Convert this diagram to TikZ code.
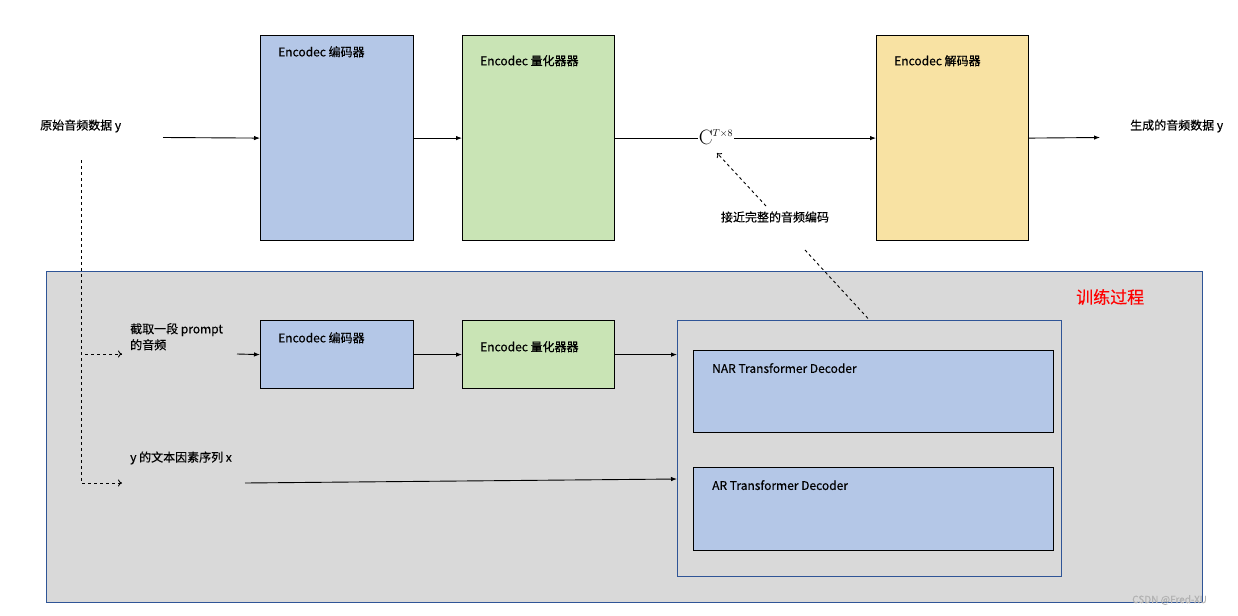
\documentclass[tikz,border=0pt]{standalone}
\usepackage[no-math]{fontspec}
\setmainfont{Noto Sans CJK SC}[FakeBold=0.3]
\usetikzlibrary{arrows.meta}

\definecolor{encblue}{HTML}{B4C7E7}
\definecolor{qgreen}{HTML}{C9E4B5}
\definecolor{decyellow}{HTML}{F8E2A3}
\definecolor{panelgray}{HTML}{D9D9D9}
\definecolor{panelblue}{HTML}{2F5597}

\tikzset{
  box/.style={draw=black, line width=1.2pt, inner sep=0pt, anchor=north west},
  boxtext/.style={anchor=north west, inner sep=0pt, font=\fontsize{12}{14}\selectfont},
  plain/.style={inner sep=0pt, font=\fontsize{12}{16}\selectfont},
  flow/.style={-{Latex[length=6pt,width=4.5pt]}, line width=0.9pt},
  hint/.style={dashed, -{To[length=4pt,width=7pt]}, line width=0.9pt},
}

\begin{document}
\begin{tikzpicture}[x=1pt,y=-1pt]
\useasboundingbox (0,0) rectangle (1238,615);

% training panel
\node[draw=panelblue, fill=panelgray, line width=0.8pt, inner sep=0pt, anchor=north west,
      minimum width=1156, minimum height=331] (panel) at (46,271) {};
\node[anchor=west, inner sep=0pt, text=red, font=\fontsize{17}{20}\selectfont] (train) at (1076,297) {训练过程};

% top row
\node[box, fill=encblue, minimum width=153, minimum height=205] (enc) at (260,35) {};
\node[box, fill=qgreen, minimum width=152, minimum height=205] (quant) at (462,35) {};
\node[box, fill=decyellow, minimum width=152, minimum height=205] (dec) at (876,35) {};
\node[boxtext] (enclab) at (278,46) {Encodec 编码器};
\node[boxtext] (quantlab) at (480,55) {Encodec 量化器器};
\node[boxtext] (declab) at (894,55) {Encodec 解码器};

\node[plain, anchor=west] (src) at (40,126) {原始音频数据 y};
\node[plain, anchor=west] (out) at (1130,126) {生成的音频数据 y};
\node[inner sep=1pt, font=\fontsize{20}{24}\selectfont] (code) at (716,137) {$\mathrm{C}^{\scriptscriptstyle T\times 8}$};
\node[plain] (hinttext) at (775,217) {接近完整的音频编码};

\coordinate (srcend) at (163,137.5);
\coordinate (outend) at (1100,137.5);
\draw[flow] (srcend) -- (enc.west);
\draw[flow] (enc.east) -- (quant.west);
\draw[line width=0.9pt] (quant.east) -- (quant.east -| code.west);
\draw[flow] (code.east |- dec.west) -- (dec.west);
\draw[flow] (dec.east) -- (outend);

% hint arrows
\coordinate (hintup) at (766,206);
\coordinate (codetip) at (717,153);
\coordinate (hintfoot) at (805,250);
\draw[hint] (hintup) -- (codetip);

% bottom row
\node[box, fill=encblue, minimum width=153, minimum height=68] (enc2) at (260,320) {};
\node[box, fill=qgreen, minimum width=152, minimum height=68] (quant2) at (462,320) {};
\node[boxtext] (enc2lab) at (278,332) {Encodec 编码器};
\node[boxtext] (quant2lab) at (480,341) {Encodec 量化器器};

\node[draw=panelblue, line width=0.8pt, inner sep=0pt, anchor=north west,
      minimum width=384, minimum height=256] (group) at (677,320) {};
\node[box, fill=encblue, minimum width=360, minimum height=82] (nar) at (693,350) {};
\node[box, fill=encblue, minimum width=360, minimum height=83] (ar) at (693,467) {};
\node[boxtext] (narlab) at (712,363) {NAR Transformer Decoder};
\node[boxtext] (arlab) at (712,480) {AR Transformer Decoder};
\draw[dashed, line width=0.9pt] (hintfoot) -- (group.north);

\node[plain, anchor=north west, align=left] (prompt) at (130,323) {截取一段 prompt\\的音频};
\node[plain, anchor=west] (phon) at (130,458) {y 的文本因素序列 x};

\coordinate (tap) at (81,160);
\coordinate (promptin) at (122,354);
\coordinate (phonin) at (122,483);
\coordinate (promptout) at (237,354);
\coordinate (phonout) at (245,483);
\coordinate (arin) at (677,479);
\draw[hint] (tap) |- (promptin);
\draw[hint] (tap) |- (phonin);
\draw[flow] (promptout) -- (enc2.west);
\draw[flow] (enc2.east) -- (quant2.west);
\draw[flow] (quant2.east) -- (quant2.east -| group.west);
\draw[flow] (phonout) -- (arin);

\node[anchor=west, inner sep=0pt, text=gray!60, font=\fontsize{10}{12}\selectfont] (mark) at (1132,600) {CSDN @Fred-XU};
\end{tikzpicture}
\end{document}
